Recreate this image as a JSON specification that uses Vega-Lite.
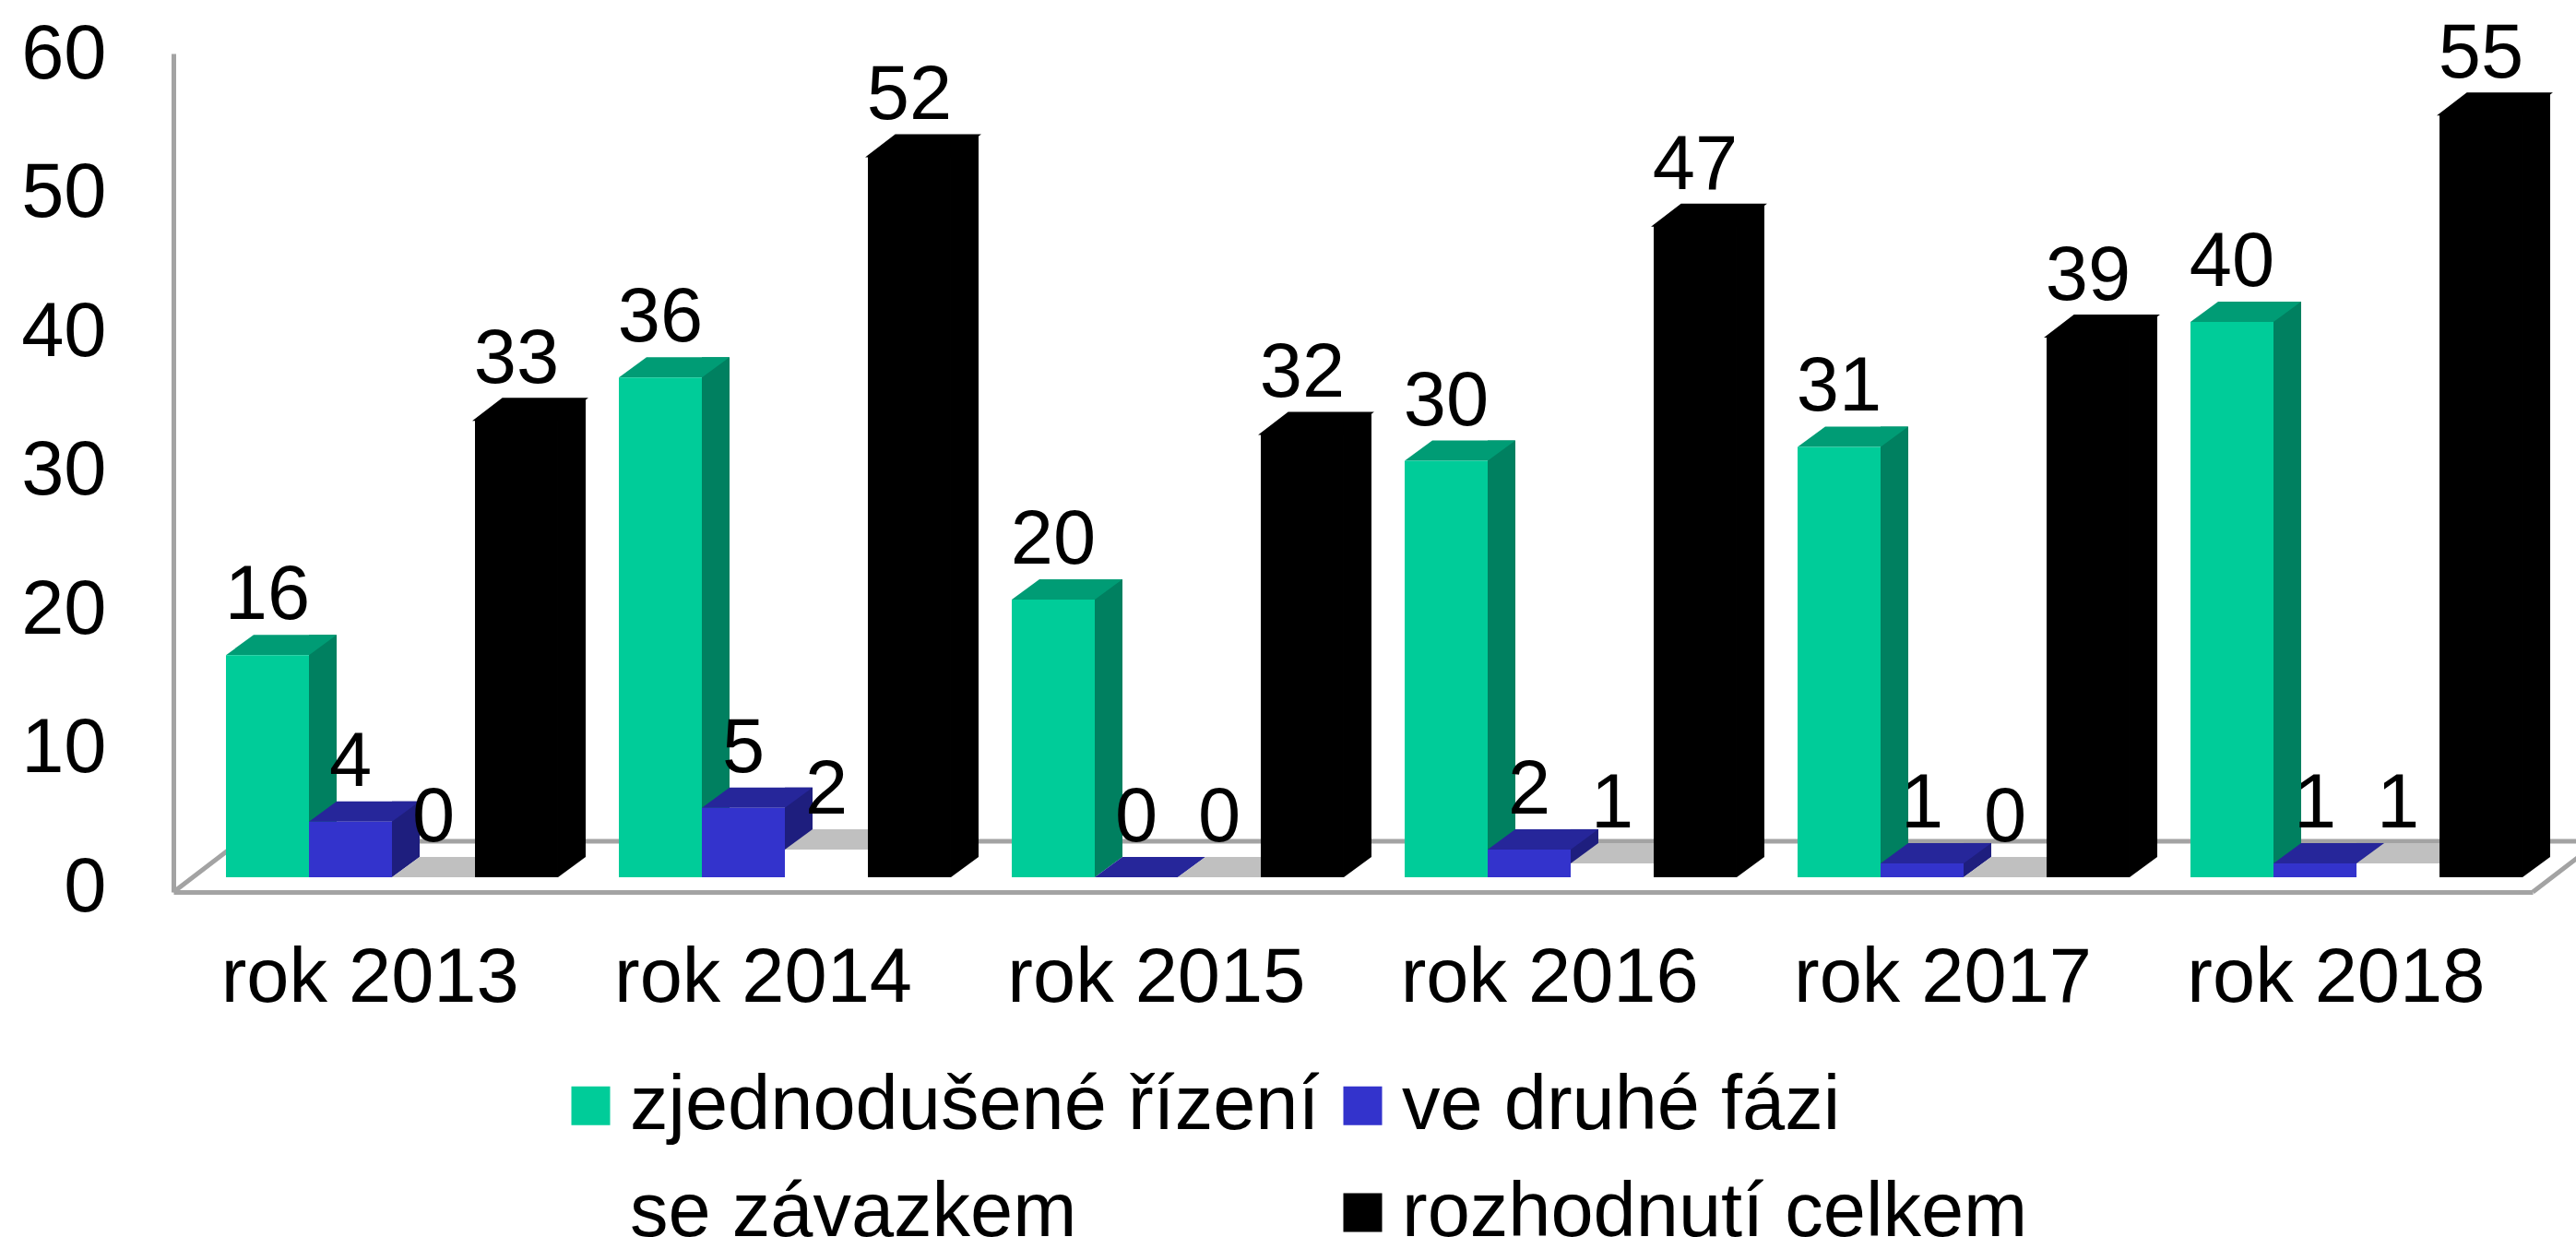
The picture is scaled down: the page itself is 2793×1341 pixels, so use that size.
{"$schema":"https://vega.github.io/schema/vega-lite/v6.json","width":2556,"height":903,"autosize":"none","padding":{"left":212,"top":48,"right":25,"bottom":390},"background":"white","config":{"view":{"stroke":null},"font":"Liberation Sans"},
"datasets":{"d":[
{"rok":"rok 2013","serie":"zjednodušené řízení","hodnota":16},{"rok":"rok 2013","serie":"ve druhé fázi","hodnota":4},{"rok":"rok 2013","serie":"se závazkem","hodnota":0},{"rok":"rok 2013","serie":"rozhodnutí celkem","hodnota":33},
{"rok":"rok 2014","serie":"zjednodušené řízení","hodnota":36},{"rok":"rok 2014","serie":"ve druhé fázi","hodnota":5},{"rok":"rok 2014","serie":"se závazkem","hodnota":2},{"rok":"rok 2014","serie":"rozhodnutí celkem","hodnota":52},
{"rok":"rok 2015","serie":"zjednodušené řízení","hodnota":20},{"rok":"rok 2015","serie":"ve druhé fázi","hodnota":0},{"rok":"rok 2015","serie":"se závazkem","hodnota":0},{"rok":"rok 2015","serie":"rozhodnutí celkem","hodnota":32},
{"rok":"rok 2016","serie":"zjednodušené řízení","hodnota":30},{"rok":"rok 2016","serie":"ve druhé fázi","hodnota":2},{"rok":"rok 2016","serie":"se závazkem","hodnota":1},{"rok":"rok 2016","serie":"rozhodnutí celkem","hodnota":47},
{"rok":"rok 2017","serie":"zjednodušené řízení","hodnota":31},{"rok":"rok 2017","serie":"ve druhé fázi","hodnota":1},{"rok":"rok 2017","serie":"se závazkem","hodnota":0},{"rok":"rok 2017","serie":"rozhodnutí celkem","hodnota":39},
{"rok":"rok 2018","serie":"zjednodušené řízení","hodnota":40},{"rok":"rok 2018","serie":"ve druhé fázi","hodnota":1},{"rok":"rok 2018","serie":"se závazkem","hodnota":1},{"rok":"rok 2018","serie":"rozhodnutí celkem","hodnota":55}
]},
"data":{"name":"d"},
"resolve":{"scale":{"x":"independent","y":"independent"},"axis":{"x":"independent","y":"independent"}},
"layer":[
{"transform":[{"filter":"datum.rok==='rok 2013' && datum.hodnota===16"}],
 "mark":{"type":"point","filled":false,"opacity":1,"shape":"M-213,0L-141,-55L2417,-55L2345,0","size":4,"stroke":"#A3A3A3","strokeWidth":5},
 "encoding":{
  "x":{"field":"rok","type":"nominal","title":null,"sort":null,"scale":{"type":"band","domain":["rok 2013","rok 2014","rok 2015","rok 2016","rok 2017","rok 2018"],"range":[-24,2534],"paddingInner":0,"paddingOuter":0},
   "axis":{"orient":"bottom","offset":16,"domain":true,"domainColor":"#A3A3A3","domainWidth":5,"ticks":false,"grid":false,"labelAngle":0,"labelFont":"Liberation Sans","labelFontSize":83,"labelColor":"#000000","labelPadding":52,"labelLimit":1000}},
  "y":{"datum":0,"type":"quantitative","title":null,"scale":{"domain":[0,60],"nice":false,"range":[919,10]},
   "axis":{"orient":"left","offset":24,"domain":true,"domainColor":"#A3A3A3","domainWidth":5,"ticks":false,"labels":false,"grid":false,"title":null}}
 }},
{"encoding":{
  "x":{"field":"rok","type":"nominal","title":null,"sort":null,"axis":null,"scale":{"type":"band","domain":["rok 2013","rok 2014","rok 2015","rok 2016","rok 2017","rok 2018"],"paddingInner":0,"paddingOuter":0}},
  "xOffset":{"field":"serie","type":"nominal","sort":null,"scale":{"type":"band","domain":["zjednodušené řízení","ve druhé fázi","se závazkem","rozhodnutí celkem"],"paddingInner":0,"paddingOuter":0.3667}},
  "y":{"field":"hodnota","type":"quantitative","stack":null,"title":null,"scale":{"domain":[0,60],"nice":false},
   "axis":{"orient":"left","domain":false,"ticks":false,"grid":false,"tickCount":7,"labelFont":"Liberation Sans","labelFontSize":83,"labelColor":"#000000","labelPadding":97,"labelOffset":11,"labelOverlap":false,"labelFlush":false}}
 },
 "layer":[
 {"transform":[{"filter":"datum.serie==='zjednodušené řízení'"}],"layer":[
  {"mark":{"type":"bar","width":30,"xOffset":-75,"yOffset":-22,"y2Offset":-22,"color":"#008060"},"encoding":{"xOffset":null,"y2":{"datum":0}}},
  {"transform":[{"filter":"datum.hodnota>0"}],"mark":{"type":"point","filled":true,"opacity":1,"size":4,"strokeWidth":0,"shape":"M45,0L45,-22L75,-22Z","color":"#008060"},"encoding":{"y":{"datum":0,"type":"quantitative"}}},
  {"mark":{"type":"point","filled":true,"opacity":1,"size":4,"strokeWidth":0,"shape":"M-45,0L45,0L75,-22L-15,-22Z","color":"#009C75"}},
  {"mark":{"type":"bar"},"encoding":{"y2":{"datum":0},"color":{"field":"serie","type":"nominal","sort":null,"scale":{"domain":["zjednodušené řízení","ve druhé fázi","se závazkem","rozhodnutí celkem"],"range":["#00CC99","#3333CC","#FFFFFF","#000000"]},
    "legend":{"orient":"none","legendX":387,"legendY":1109,"columns":2,"direction":"horizontal","title":null,"symbolType":"square","symbolSize":1764,"symbolStrokeWidth":0,"labelFont":"Liberation Sans","labelFontSize":83,"labelColor":"#000000","labelLimit":1200,"labelOffset":1,"columnPadding":5,"rowPadding":32}}}}
 ]},
 {"transform":[{"filter":"datum.serie==='ve druhé fázi'"}],"layer":[
  {"mark":{"type":"bar","width":30,"xOffset":15,"yOffset":-22,"y2Offset":-22,"color":"#1E1E7E"},"encoding":{"xOffset":null,"y2":{"datum":0}}},
  {"transform":[{"filter":"datum.hodnota>0"}],"mark":{"type":"point","filled":true,"opacity":1,"size":4,"strokeWidth":0,"shape":"M45,0L45,-22L75,-22Z","color":"#1E1E7E"},"encoding":{"y":{"datum":0,"type":"quantitative"}}},
  {"mark":{"type":"point","filled":true,"opacity":1,"size":4,"strokeWidth":0,"shape":"M-45,0L45,0L75,-22L-15,-22Z","color":"#26269A"}},
  {"mark":{"type":"bar"},"encoding":{"y2":{"datum":0},"color":{"field":"serie","type":"nominal","sort":null}}}
 ]},
 {"transform":[{"filter":"datum.serie==='se závazkem'"}],"layer":[
  {"mark":{"type":"point","filled":true,"opacity":1,"size":4,"strokeWidth":0,"shape":"M-45,0L45,0L75,-22L-15,-22Z","color":"#C0C0C0"}},
  {"mark":{"type":"bar"},"encoding":{"y2":{"datum":0},"color":{"field":"serie","type":"nominal","sort":null}}}
 ]},
 {"transform":[{"filter":"datum.serie==='rozhodnutí celkem'"}],"layer":[
  {"mark":{"type":"bar","width":30,"xOffset":195,"yOffset":-22,"y2Offset":-22,"color":"#000000"},"encoding":{"xOffset":null,"y2":{"datum":0}}},
  {"mark":{"type":"point","filled":true,"opacity":1,"size":4,"strokeWidth":0,"shape":"M45,0L45,-22L75,-22Z","color":"#000000"},"encoding":{"y":{"datum":0,"type":"quantitative"}}},
  {"mark":{"type":"point","filled":true,"opacity":1,"size":4,"strokeWidth":2,"stroke":"#000000","fill":"#000000","shape":"M-45,1L45,1L75,-22L-15,-22Z"}},
  {"mark":{"type":"bar"},"encoding":{"y2":{"datum":0},"color":{"field":"serie","type":"nominal","sort":null}}}
 ]},
 {"mark":{"type":"text","font":"Liberation Sans","fontSize":83,"color":"#000000","baseline":"alphabetic","align":"center","dy":-39},"encoding":{"text":{"field":"hodnota","type":"quantitative"}}}
 ]}
]}
